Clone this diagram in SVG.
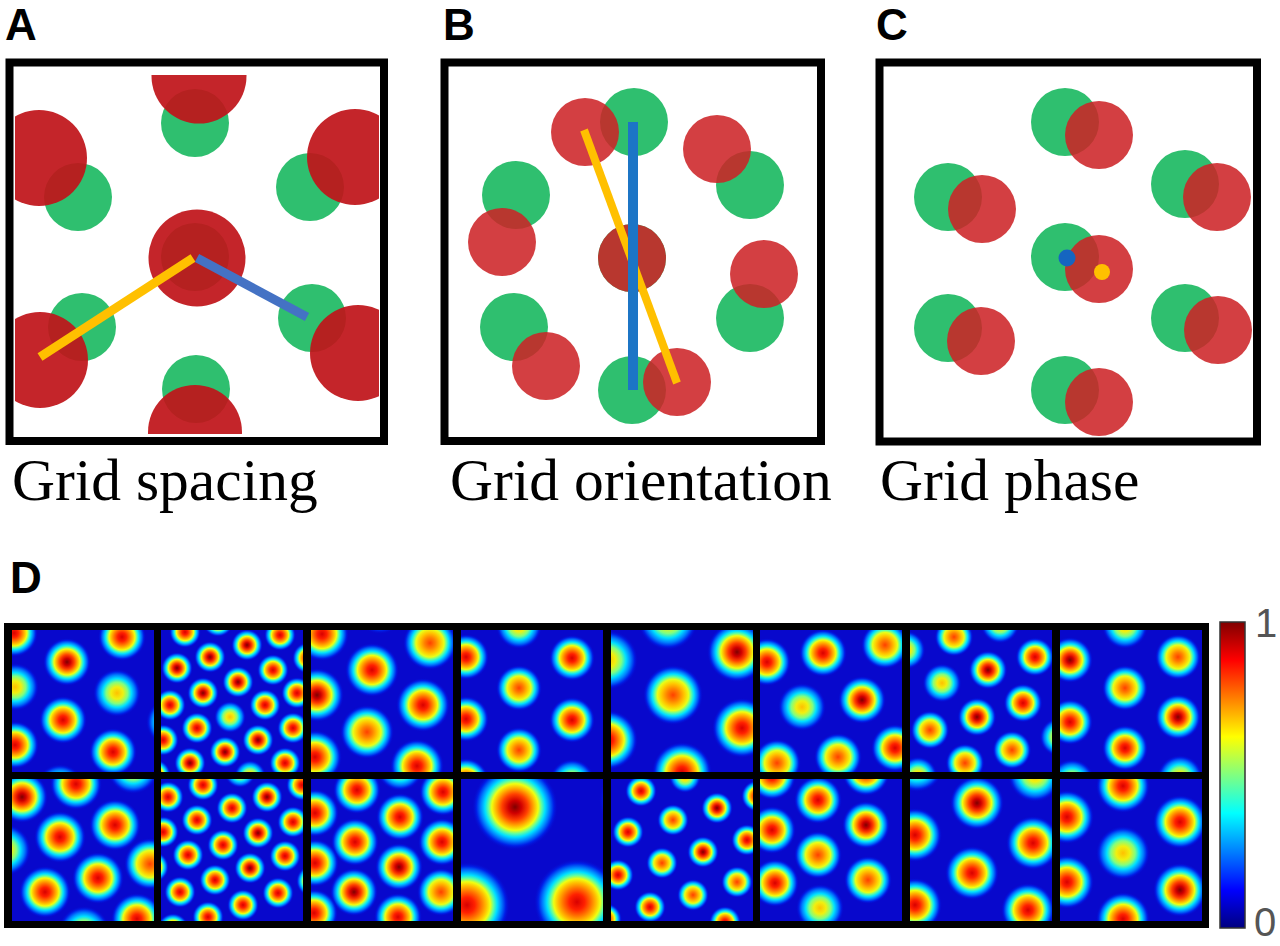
<svg xmlns="http://www.w3.org/2000/svg" width="1280" height="946" viewBox="0 0 1280 946">
<style>
.g{fill:#2fbf6f}
.rA{fill:#c0141a;opacity:.93}
.rB{fill:#cc2226;opacity:.87}
.frame{fill:none;stroke:#000;stroke-width:8}
.lbl{font-family:"Liberation Sans",Arial,sans-serif;font-weight:bold;font-size:44px;fill:#000}
.cap{font-family:"Liberation Serif","Times New Roman",serif;font-size:59.5px;fill:#000}
.num{font-family:"Liberation Sans",Arial,sans-serif;font-size:40px;fill:#555}
.bg{fill:#0808cc}
.h{fill:url(#jH)}
.m{fill:url(#jM)}
.o{fill:url(#jO)}
.y{fill:url(#jY)}
</style>
<defs>
<radialGradient id="jH">
<stop offset="0" stop-color="#7f0000"/><stop offset="0.15" stop-color="#d00000"/><stop offset="0.3" stop-color="#ff4000"/><stop offset="0.44" stop-color="#ffb000"/><stop offset="0.54" stop-color="#f0ff10"/><stop offset="0.62" stop-color="#60ffa0"/><stop offset="0.7" stop-color="#00e0ff"/><stop offset="0.8" stop-color="#0080ff"/><stop offset="0.9" stop-color="#0020e8"/><stop offset="1" stop-color="#0808cc" stop-opacity="0"/>
</radialGradient>
<radialGradient id="jM">
<stop offset="0" stop-color="#d80000"/><stop offset="0.18" stop-color="#ff2000"/><stop offset="0.32" stop-color="#ff7000"/><stop offset="0.45" stop-color="#ffc000"/><stop offset="0.54" stop-color="#f0ff10"/><stop offset="0.62" stop-color="#60ffa0"/><stop offset="0.7" stop-color="#00e0ff"/><stop offset="0.8" stop-color="#0080ff"/><stop offset="0.9" stop-color="#0020e8"/><stop offset="1" stop-color="#0808cc" stop-opacity="0"/>
</radialGradient>
<radialGradient id="jO">
<stop offset="0" stop-color="#ff4000"/><stop offset="0.2" stop-color="#ff8000"/><stop offset="0.38" stop-color="#ffc800"/><stop offset="0.52" stop-color="#e8ff18"/><stop offset="0.61" stop-color="#60ffa0"/><stop offset="0.7" stop-color="#00e0ff"/><stop offset="0.8" stop-color="#0080ff"/><stop offset="0.9" stop-color="#0020e8"/><stop offset="1" stop-color="#0808cc" stop-opacity="0"/>
</radialGradient>
<radialGradient id="jY">
<stop offset="0" stop-color="#ffc000"/><stop offset="0.25" stop-color="#f0f010"/><stop offset="0.45" stop-color="#80ff80"/><stop offset="0.6" stop-color="#00e0ff"/><stop offset="0.75" stop-color="#0080ff"/><stop offset="0.88" stop-color="#0020e8"/><stop offset="1" stop-color="#0808cc" stop-opacity="0"/>
</radialGradient>
<linearGradient id="jet" x1="0" y1="0" x2="0" y2="1">
<stop offset="0" stop-color="#800000"/><stop offset="0.125" stop-color="#ff0000"/><stop offset="0.375" stop-color="#ffff00"/><stop offset="0.5" stop-color="#80ff80"/><stop offset="0.625" stop-color="#00ffff"/><stop offset="0.875" stop-color="#0000ff"/><stop offset="1" stop-color="#000080"/>
</linearGradient>
<clipPath id="clipA"><rect x="15" y="75" width="364" height="359"/></clipPath>
<clipPath id="clipB"><rect x="449" y="67" width="368" height="370"/></clipPath>
<clipPath id="clipC"><rect x="884" y="67" width="368" height="371"/></clipPath>
</defs>
<rect width="1280" height="946" fill="#fff"/>

<g id="panelA">
<text class="lbl" x="5" y="40">A</text>
<g clip-path="url(#clipA)">
<circle class="g" cx="195" cy="123" r="34"/><circle class="g" cx="78" cy="197" r="34"/><circle class="g" cx="310" cy="187" r="34"/><circle class="g" cx="195" cy="257" r="34"/><circle class="g" cx="82" cy="327" r="34"/><circle class="g" cx="312" cy="318" r="34"/><circle class="g" cx="196" cy="389" r="34"/>
<circle class="rA" cx="199" cy="76" r="47.5"/><circle class="rA" cx="39" cy="158" r="48"/><circle class="rA" cx="355" cy="157" r="48"/><circle class="rA" cx="197" cy="258" r="48.5"/><circle class="rA" cx="40" cy="360" r="48"/><circle class="rA" cx="358" cy="353" r="48"/><circle class="rA" cx="195" cy="432" r="47"/>
</g>
<line x1="40" y1="357" x2="193" y2="258" stroke="#ffc000" stroke-width="9"/>
<line x1="197" y1="258" x2="307" y2="317" stroke="#4472c4" stroke-width="9"/>
<rect class="frame" x="9.5" y="62.5" width="374.5" height="378.5"/>
<text class="cap" x="12" y="500">Grid spacing</text>
</g>

<g id="panelB">
<text class="lbl" x="443" y="40">B</text>
<g clip-path="url(#clipB)">
<circle class="g" cx="634" cy="122" r="34"/><circle class="g" cx="516" cy="195" r="34"/><circle class="g" cx="514" cy="327" r="34"/><circle class="g" cx="632" cy="390" r="34"/><circle class="g" cx="750" cy="185" r="34"/><circle class="g" cx="750" cy="318" r="34"/><circle class="g" cx="632" cy="258" r="34"/>
<circle class="rB" cx="585" cy="132" r="34"/><circle class="rB" cx="502" cy="242" r="34"/><circle class="rB" cx="546" cy="366" r="34"/><circle class="rB" cx="677" cy="382" r="34"/><circle class="rB" cx="764" cy="274" r="34"/><circle class="rB" cx="717" cy="149" r="34"/><circle class="rB" cx="632" cy="258" r="34"/>
</g>
<line x1="584" y1="130" x2="677" y2="383" stroke="#ffc000" stroke-width="8"/>
<line x1="633" y1="122" x2="633" y2="390" stroke="#1c75c6" stroke-width="10"/>
<rect class="frame" x="444.5" y="62.5" width="376.5" height="378.5"/>
<text class="cap" x="450" y="500">Grid orientation</text>
</g>

<g id="panelC">
<text class="lbl" x="876" y="40">C</text>
<g clip-path="url(#clipC)">
<circle class="g" cx="1065" cy="122" r="34"/><circle class="g" cx="948" cy="197" r="34"/><circle class="g" cx="1185" cy="184" r="34"/><circle class="g" cx="1065" cy="257" r="34"/><circle class="g" cx="948" cy="328" r="34"/><circle class="g" cx="1185" cy="318" r="34"/><circle class="g" cx="1065" cy="390" r="34"/>
<circle class="rB" cx="1099" cy="135" r="34"/><circle class="rB" cx="982" cy="209" r="34"/><circle class="rB" cx="1217" cy="197" r="34"/><circle class="rB" cx="1099" cy="269" r="34"/><circle class="rB" cx="981" cy="341" r="34"/><circle class="rB" cx="1218" cy="330" r="34"/><circle class="rB" cx="1099" cy="402" r="34"/>
</g>
<circle cx="1067" cy="258" r="8.5" fill="#1565c0"/>
<circle cx="1102" cy="272" r="8" fill="#ffc000"/>
<rect class="frame" x="879.5" y="62.5" width="377.5" height="379"/>
<text class="cap" x="880" y="500">Grid phase</text>
</g>

<g id="panelD">
<text class="lbl" x="10" y="593">D</text>
<rect x="4" y="623" width="1205" height="305" fill="#000"/>

<svg x="12" y="630" width="142" height="142" viewBox="12 630 142 142">
<rect class="bg" x="12" y="630" width="142" height="142"/>
<circle class="h" cx="67" cy="662" r="24"/>
<circle class="m" cx="14" cy="633" r="24"/><circle class="m" cx="122" cy="637" r="24"/><circle class="m" cx="63" cy="720" r="24"/><circle class="m" cx="15" cy="745" r="24"/><circle class="m" cx="113" cy="752" r="24"/>
<circle class="y" cx="15" cy="687" r="24"/><circle class="y" cx="117" cy="693" r="24"/><circle class="y" cx="60" cy="788" r="24"/><circle class="y" cx="170" cy="722" r="24"/>
</svg>

<svg x="161" y="630" width="142" height="142" viewBox="161 630 142 142">
<rect class="bg" x="161" y="630" width="142" height="142"/>
<circle class="h" cx="247" cy="645" r="16"/><circle class="h" cx="210" cy="657" r="16"/><circle class="h" cx="177" cy="668" r="16"/><circle class="h" cx="238" cy="682" r="16"/><circle class="h" cx="203" cy="693" r="16"/><circle class="h" cx="258" cy="740" r="16"/><circle class="h" cx="225" cy="752" r="16"/><circle class="h" cx="190" cy="763" r="16"/>
<circle class="m" cx="185" cy="632" r="16"/><circle class="m" cx="280" cy="635" r="16"/><circle class="m" cx="273" cy="670" r="16"/><circle class="m" cx="297" cy="693" r="16"/><circle class="m" cx="170" cy="705" r="16"/><circle class="m" cx="265" cy="705" r="16"/><circle class="m" cx="197" cy="728" r="16"/><circle class="m" cx="293" cy="728" r="16"/><circle class="m" cx="163" cy="740" r="16"/><circle class="m" cx="285" cy="763" r="16"/><circle class="m" cx="308" cy="658" r="16"/><circle class="m" cx="155" cy="775" r="16"/><circle class="m" cx="218" cy="621" r="16"/>
<circle class="y" cx="230" cy="717" r="16"/><circle class="y" cx="250" cy="776" r="16"/><circle class="y" cx="217" cy="788" r="16"/>
</svg>

<svg x="311" y="630" width="142" height="142" viewBox="311 630 142 142">
<rect class="bg" x="311" y="630" width="142" height="142"/>
<circle class="h" cx="317" cy="695" r="27"/>
<circle class="m" cx="322" cy="634" r="27"/><circle class="m" cx="372" cy="670" r="27"/><circle class="m" cx="423" cy="705" r="27"/><circle class="m" cx="315" cy="757" r="27"/><circle class="m" cx="417" cy="766" r="27"/>
<circle class="o" cx="430" cy="643" r="27"/><circle class="o" cx="367" cy="732" r="27"/>
<circle class="y" cx="380" cy="607" r="27"/>
</svg>

<svg x="461" y="630" width="142" height="142" viewBox="461 630 142 142">
<rect class="bg" x="461" y="630" width="142" height="142"/>
<circle class="m" cx="466" cy="657" r="23"/><circle class="m" cx="572" cy="658" r="23"/><circle class="m" cx="466" cy="719" r="23"/><circle class="m" cx="572" cy="720" r="23"/><circle class="m" cx="466" cy="781" r="23"/>
<circle class="o" cx="519" cy="688" r="23"/><circle class="o" cx="519" cy="750" r="23"/>
<circle class="y" cx="519" cy="626" r="23"/><circle class="y" cx="572" cy="782" r="23"/>
</svg>

<svg x="611" y="630" width="142" height="142" viewBox="611 630 142 142">
<rect class="bg" x="611" y="630" width="142" height="142"/>
<circle class="h" cx="737" cy="652" r="30"/>
<circle class="o" cx="673" cy="695" r="30"/>
<circle class="m" cx="608" cy="740" r="30"/><circle class="m" cx="742" cy="728" r="30"/><circle class="m" cx="682" cy="772" r="30"/>
<circle class="y" cx="608" cy="660" r="30"/><circle class="y" cx="668" cy="620" r="30"/>
</svg>

<svg x="760" y="630" width="142" height="142" viewBox="760 630 142 142">
<rect class="bg" x="760" y="630" width="142" height="142"/>
<circle class="h" cx="862" cy="700" r="24"/>
<circle class="m" cx="767" cy="662" r="24"/><circle class="m" cx="823" cy="653" r="24"/><circle class="m" cx="895" cy="748" r="24"/>
<circle class="o" cx="885" cy="645" r="24"/><circle class="o" cx="777" cy="763" r="24"/><circle class="o" cx="838" cy="757" r="24"/>
<circle class="y" cx="802" cy="707" r="24"/>
</svg>

<svg x="910" y="630" width="142" height="142" viewBox="910 630 142 142">
<rect class="bg" x="910" y="630" width="142" height="142"/>
<circle class="h" cx="988" cy="670" r="19.5"/><circle class="h" cx="977" cy="717" r="19.5"/>
<circle class="m" cx="1035" cy="657" r="19.5"/><circle class="m" cx="1023" cy="703" r="19.5"/>
<circle class="o" cx="954" cy="637" r="19.5"/><circle class="o" cx="930" cy="730" r="19.5"/><circle class="o" cx="1012" cy="750" r="19.5"/><circle class="o" cx="965" cy="763" r="19.5"/>
<circle class="y" cx="1000" cy="624" r="19.5"/><circle class="y" cx="942" cy="683" r="19.5"/><circle class="y" cx="906" cy="650" r="19.5"/><circle class="y" cx="918" cy="776" r="19.5"/><circle class="y" cx="1059" cy="737" r="19.5"/>
</svg>

<svg x="1060" y="630" width="142" height="142" viewBox="1060 630 142 142">
<rect class="bg" x="1060" y="630" width="142" height="142"/>
<circle class="h" cx="1070" cy="660" r="23"/><circle class="h" cx="1178" cy="717" r="23"/>
<circle class="o" cx="1178" cy="657" r="23"/><circle class="o" cx="1125" cy="688" r="23"/>
<circle class="m" cx="1070" cy="722" r="23"/><circle class="m" cx="1125" cy="748" r="23"/>
<circle class="y" cx="1125" cy="626" r="23"/><circle class="y" cx="1072" cy="782" r="23"/><circle class="y" cx="1180" cy="778" r="23"/>
</svg>

<svg x="12" y="779" width="142" height="142" viewBox="12 779 142 142">
<rect class="bg" x="12" y="779" width="142" height="142"/>
<circle class="h" cx="22" cy="797" r="26"/>
<circle class="m" cx="76" cy="784" r="26"/><circle class="m" cx="115" cy="825" r="26"/><circle class="m" cx="60" cy="837" r="26"/><circle class="m" cx="98" cy="878" r="26"/><circle class="m" cx="45" cy="892" r="26"/><circle class="m" cx="137" cy="919" r="26"/>
<circle class="y" cx="133" cy="768" r="26"/><circle class="y" cx="5" cy="850" r="26"/><circle class="y" cx="84" cy="932" r="26"/>
<circle class="o" cx="150" cy="864" r="26"/>
</svg>

<svg x="161" y="779" width="142" height="142" viewBox="161 779 142 142">
<rect class="bg" x="161" y="779" width="142" height="142"/>
<circle class="h" cx="267" cy="797" r="16"/><circle class="h" cx="258" cy="833" r="16"/><circle class="h" cx="250" cy="868" r="16"/>
<circle class="m" cx="168" cy="797" r="16"/><circle class="m" cx="203" cy="785" r="16"/><circle class="m" cx="302" cy="785" r="16"/><circle class="m" cx="232" cy="808" r="16"/><circle class="m" cx="197" cy="820" r="16"/><circle class="m" cx="163" cy="832" r="16"/><circle class="m" cx="293" cy="822" r="16"/><circle class="m" cx="223" cy="845" r="16"/><circle class="m" cx="188" cy="855" r="16"/><circle class="m" cx="285" cy="856" r="16"/><circle class="m" cx="215" cy="880" r="16"/><circle class="m" cx="180" cy="892" r="16"/><circle class="m" cx="278" cy="893" r="16"/><circle class="m" cx="243" cy="905" r="16"/><circle class="m" cx="208" cy="917" r="16"/><circle class="m" cx="153" cy="867" r="16"/><circle class="m" cx="173" cy="929" r="16"/><circle class="m" cx="312" cy="881" r="16"/>
<circle class="y" cx="240" cy="772" r="16"/>
</svg>

<svg x="311" y="779" width="142" height="142" viewBox="311 779 142 142">
<rect class="bg" x="311" y="779" width="142" height="142"/>
<circle class="h" cx="399" cy="867" r="24"/><circle class="h" cx="354" cy="892" r="24"/>
<circle class="m" cx="357" cy="790" r="24"/><circle class="m" cx="443" cy="792" r="24"/><circle class="m" cx="315" cy="813" r="24"/><circle class="m" cx="400" cy="817" r="24"/><circle class="m" cx="355" cy="842" r="24"/><circle class="m" cx="442" cy="842" r="24"/><circle class="m" cx="315" cy="863" r="24"/><circle class="m" cx="398" cy="917" r="24"/><circle class="m" cx="314" cy="913" r="24"/>
<circle class="y" cx="400" cy="767" r="24"/><circle class="o" cx="441" cy="892" r="24"/>
</svg>

<svg x="461" y="779" width="142" height="142" viewBox="461 779 142 142">
<rect class="bg" x="461" y="779" width="142" height="142"/>
<circle class="h" cx="515" cy="807" r="43"/>
<circle class="m" cx="467" cy="905" r="43"/><circle class="m" cx="577" cy="902" r="43"/><circle class="y" cx="642" cy="800" r="43"/>
</svg>

<svg x="611" y="779" width="142" height="142" viewBox="611 779 142 142">
<rect class="bg" x="611" y="779" width="142" height="142"/>
<circle class="h" cx="717" cy="808" r="16"/><circle class="h" cx="703" cy="852" r="16"/>
<circle class="m" cx="641" cy="791" r="16"/><circle class="m" cx="757" cy="796" r="16"/><circle class="m" cx="628" cy="832" r="16"/><circle class="m" cx="747" cy="840" r="16"/><circle class="m" cx="618" cy="875" r="16"/><circle class="m" cx="650" cy="907" r="16"/><circle class="m" cx="725" cy="922" r="16"/><circle class="m" cx="606" cy="919" r="16"/>
<circle class="o" cx="673" cy="820" r="16"/><circle class="o" cx="662" cy="863" r="16"/><circle class="o" cx="737" cy="882" r="16"/><circle class="o" cx="693" cy="895" r="16"/>
<circle class="y" cx="685" cy="777" r="16"/>
</svg>

<svg x="760" y="779" width="142" height="142" viewBox="760 779 142 142">
<rect class="bg" x="760" y="779" width="142" height="142"/>
<circle class="h" cx="866" cy="825" r="24"/>
<circle class="m" cx="772" cy="776" r="24"/><circle class="m" cx="818" cy="800" r="24"/><circle class="m" cx="866" cy="772" r="24"/><circle class="m" cx="772" cy="830" r="24"/><circle class="m" cx="775" cy="883" r="24"/>
<circle class="o" cx="818" cy="855" r="24"/><circle class="o" cx="868" cy="880" r="24"/>
<circle class="y" cx="820" cy="908" r="24"/>
</svg>

<svg x="910" y="779" width="142" height="142" viewBox="910 779 142 142">
<rect class="bg" x="910" y="779" width="142" height="142"/>
<circle class="h" cx="977" cy="803" r="27"/>
<circle class="m" cx="915" cy="835" r="27"/><circle class="m" cx="1033" cy="843" r="27"/><circle class="m" cx="972" cy="873" r="27"/><circle class="m" cx="915" cy="905" r="27"/><circle class="m" cx="1028" cy="910" r="27"/>
<circle class="y" cx="1035" cy="775" r="27"/><circle class="y" cx="917" cy="765" r="27"/>
</svg>

<svg x="1060" y="779" width="142" height="142" viewBox="1060 779 142 142">
<rect class="bg" x="1060" y="779" width="142" height="142"/>
<circle class="h" cx="1180" cy="890" r="27"/>
<circle class="m" cx="1123" cy="786" r="27"/><circle class="m" cx="1067" cy="817" r="27"/><circle class="m" cx="1180" cy="822" r="27"/><circle class="m" cx="1067" cy="882" r="27"/><circle class="m" cx="1123" cy="919" r="27"/>
<circle class="y" cx="1123" cy="853" r="27"/>
</svg>

<rect x="1220" y="622" width="25" height="306" fill="url(#jet)" stroke="#333" stroke-width="1.5"/>
<text class="num" x="1255" y="637">1</text>
<text class="num" x="1254" y="936">0</text>
</g>
</svg>
